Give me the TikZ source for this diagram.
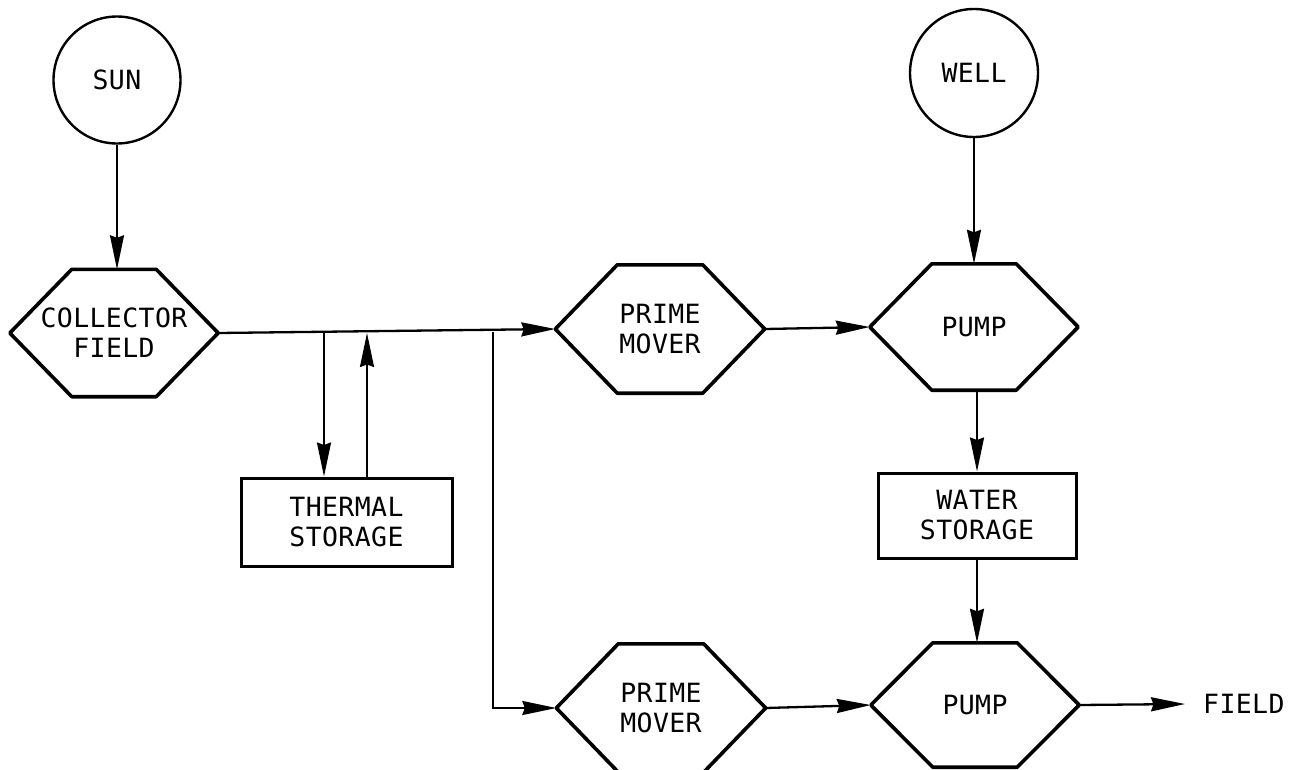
\documentclass[tikz,border=0pt]{standalone}
\usepackage{fontspec}
\setmonofont[LetterSpace=1.5]{DejaVu Sans Mono}
\usetikzlibrary{arrows.meta,calc}
\newcommand{\lettering}{\ttfamily\fontsize{26.5}{30}\selectfont}
\newcommand{\hexoutline}[1]{\draw[hexline] (#1.west) -- ([xshift=62pt]#1.north west) -- ([xshift=-62pt]#1.north east) -- (#1.east) -- ([xshift=-62pt]#1.south east) -- ([xshift=62pt]#1.south west) -- cycle;}
\tikzset{
  conn/.style={line width=2.3pt, -{Stealth[length=34pt,width=14pt,inset=2.5pt]}},
  vconn/.style={conn, line width=1.9pt},
  hexbox/.style={minimum width=208pt, minimum height=127pt, inner sep=0pt, align=center, font=\lettering},
  disc/.style={circle, draw, line width=2.4pt, minimum size=127pt, inner sep=0pt, font=\lettering},
  storebox/.style={rectangle, draw, line width=3pt, inner sep=0pt, align=center, font=\lettering},
  hexline/.style={line width=3.6pt, line join=round},
}
\begin{document}
\begin{tikzpicture}[x=1pt,y=-1pt]
\useasboundingbox[fill=white] (0,0) rectangle (1296,769);
% nodes
\node[disc] (sun) at (117,80) {SUN};
\node[disc, minimum size=128pt] (well) at (974,73) {WELL};
\node[hexbox] (cf) at (114,333) {COLLECTOR\\FIELD};
\node[hexbox, minimum width=209pt, minimum height=128pt] (pm1) at (660,329) {PRIME\\MOVER};
\node[hexbox, minimum height=126pt] (p1) at (974,327) {PUMP};
\node[storebox, minimum width=211pt, minimum height=88pt] (ts) at (346.5,522) {THERMAL\\STORAGE};
\node[storebox, minimum width=198pt, minimum height=85pt] (ws) at (977,515.5) {WATER\\STORAGE};
\node[hexbox, minimum width=209pt, minimum height=128pt] (pm2) at (661,708) {PRIME\\MOVER};
\node[hexbox, minimum height=124pt] (p2) at (975,705) {PUMP};
\node[font=\lettering, anchor=west, inner xsep=18pt, inner ysep=0pt] (field) at (1185,704) {FIELD};
% hexagon outlines
\hexoutline{cf}
\hexoutline{pm1}
\hexoutline{p1}
\hexoutline{pm2}
\hexoutline{p2}
% junction coordinates
\coordinate (tsin) at ([xshift=-22.5pt]ts.north);
\coordinate (tsout) at ([xshift=20.5pt]ts.north);
\coordinate (br) at (493,332);
% connectors
\draw[vconn] (sun.south) -- (sun.south |- cf.north);
\draw[vconn] (well.south) -- (well.south |- p1.north);
\draw[conn] (cf.east) -- (pm1.west);
\draw[vconn] (tsin |- cf.east) -- (tsin);
\draw[vconn] (tsout) -- (tsout |- cf.east);
\draw[vconn] (br) |- (pm2.west);
\draw[conn] (pm1.east) -- (p1.west);
\draw[vconn] (p1.south -| ws.north) -- (ws.north);
\draw[vconn] (ws.south) -- (ws.south |- p2.north);
\draw[conn] (pm2.east) -- (p2.west);
\draw[conn] (p2.east) -- (field.west);
\end{tikzpicture}
\end{document}
